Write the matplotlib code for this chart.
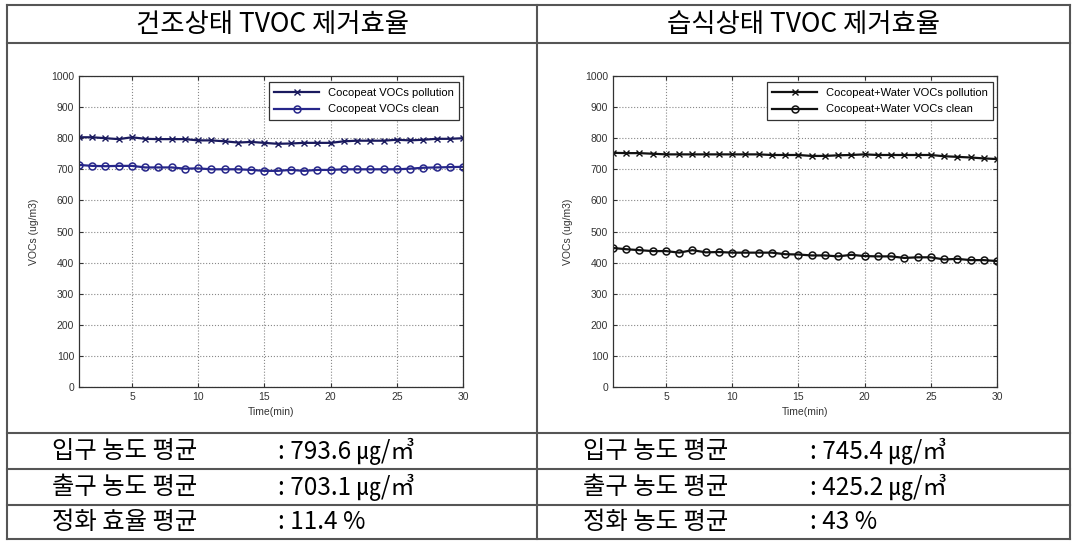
import matplotlib
matplotlib.use('Agg')
import matplotlib.pyplot as plt
from matplotlib.lines import Line2D

plt.rcParams['font.family'] = ['Noto Sans CJK KR', 'DejaVu Sans']

# 데이터
minutes = list(range(1, 31))

dry_pollution = [803, 803, 800, 797, 803, 798, 797, 797, 797, 793,
                 793, 790, 786, 788, 785, 782, 783, 785, 785, 785,
                 790, 792, 792, 792, 795, 793, 795, 798, 798, 800]
dry_clean = [714, 711, 710, 711, 711, 706, 706, 706, 702, 703,
             700, 700, 700, 698, 695, 695, 698, 695, 698, 698,
             700, 700, 700, 700, 700, 702, 705, 706, 707, 708]

wet_pollution = [753, 752, 752, 750, 748, 748, 748, 748, 748, 748,
                 748, 748, 746, 746, 746, 743, 743, 745, 746, 748,
                 746, 746, 746, 746, 746, 742, 740, 738, 735, 733]
wet_clean = [447, 443, 440, 437, 437, 432, 440, 433, 434, 432,
             432, 432, 432, 427, 426, 423, 423, 420, 425, 421,
             420, 420, 415, 417, 417, 410, 412, 408, 408, 405]

headers = ['건조상태 TVOC 제거효율', '습식상태 TVOC 제거효율']
row_labels_left = ['입구 농도 평균', '출구 농도 평균', '정화 효율 평균']
row_values_left = [': 793.6 ㎍/㎥', ': 703.1 ㎍/㎥', ': 11.4 %']
row_labels_right = ['입구 농도 평균', '출구 농도 평균', '정화 농도 평균']
row_values_right = [': 745.4 ㎍/㎥', ': 425.2 ㎍/㎥', ': 43 %']

W, H = 1078, 547
fig = plt.figure(figsize=(W / 100, H / 100), dpi=100)


def fx(x):
    return x / W


def fy(y):
    return 1 - y / H


# 표 테두리
line_kw = dict(color='#555555', linewidth=1.5, transform=fig.transFigure)
x_left, x_mid, x_right = 7, 537, 1070
row_ys = [5, 43, 433, 469, 505, 539]
for y in row_ys:
    fig.add_artist(Line2D([fx(x_left), fx(x_right)], [fy(y), fy(y)], **line_kw))
for x in [x_left, x_mid, x_right]:
    fig.add_artist(Line2D([fx(x), fx(x)], [fy(row_ys[0]), fy(row_ys[-1])], **line_kw))

# 제목
fig.text(fx((x_left + x_mid) / 2), fy(24), headers[0], fontsize=19,
         ha='center', va='center')
fig.text(fx((x_mid + x_right) / 2), fy(24), headers[1], fontsize=19,
         ha='center', va='center')

# 아래 표의 텍스트
for i in range(3):
    yc = fy((row_ys[i + 2] + row_ys[i + 3]) / 2)
    fig.text(fx(52), yc, row_labels_left[i], fontsize=17.5, va='center')
    fig.text(fx(278), yc, row_values_left[i], fontsize=17.5, va='center')
    fig.text(fx(583), yc, row_labels_right[i], fontsize=17.5, va='center')
    fig.text(fx(810), yc, row_values_right[i], fontsize=17.5, va='center')


def draw_chart(left, right, s1, s2, labels, colors):
    ax = fig.add_axes([fx(left), fy(387), fx(right - left), (387 - 76) / H])
    ax.plot(minutes, s1, color=colors[0], linewidth=1.6, marker='x',
            markersize=4, markeredgewidth=1.0, label=labels[0])
    ax.plot(minutes, s2, color=colors[1], linewidth=1.6, marker='o',
            markersize=5, markerfacecolor='none', markeredgewidth=1.1,
            label=labels[1])
    ax.set_xlim(1, 30)
    ax.set_ylim(0, 1000)
    ax.set_xticks([5, 10, 15, 20, 25, 30])
    ax.set_yticks(range(0, 1001, 100))
    ax.grid(True, linestyle=':', color='#888888', linewidth=0.8)
    ax.tick_params(direction='in', length=3, top=True, right=True,
                   labelsize=7.5, labelcolor='#333333', colors='#333333')
    for t in ax.get_xticklabels() + ax.get_yticklabels():
        t.set_fontfamily('Liberation Sans')
    for sp in ax.spines.values():
        sp.set_color('#333333')
        sp.set_linewidth(0.9)
    ax.set_xlabel('Time(min)', fontsize=7.5, family='Liberation Sans',
                  color='#333333', labelpad=4)
    ax.set_ylabel('VOCs (ug/m3)', fontsize=7.5, family='Liberation Sans',
                  color='#333333', labelpad=9)
    leg = ax.legend(loc='upper right', bbox_to_anchor=(0.99, 0.98),
                    borderaxespad=0, fancybox=False, framealpha=1,
                    edgecolor='#333333', handlelength=4, labelspacing=0.6,
                    borderpad=0.5,
                    prop={'family': 'Liberation Sans', 'size': 8})
    leg.get_frame().set_linewidth(0.9)
    return ax


draw_chart(79, 463, dry_pollution, dry_clean,
           ['Cocopeat VOCs pollution', 'Cocopeat VOCs clean'],
           ['#1a1a5e', '#26268a'])
draw_chart(613, 997, wet_pollution, wet_clean,
           ['Cocopeat+Water VOCs pollution', 'Cocopeat+Water VOCs clean'],
           ['#111111', '#111111'])

fig.savefig('out.png', dpi=100)
